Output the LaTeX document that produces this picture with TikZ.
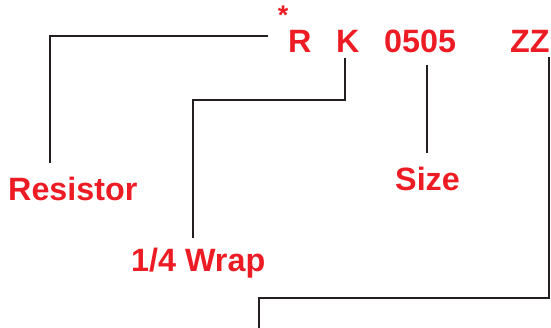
\documentclass[tikz,border=0pt]{standalone}
\usepackage{fontspec}
\setmainfont{Liberation Sans}
\definecolor{codered}{HTML}{ED1C24}
\definecolor{leadgray}{HTML}{231F20}

\begin{document}
\begin{tikzpicture}[
    x=1pt, y=-1pt,
    code/.style={text=codered, font=\bfseries\fontsize{32.3}{32.3}\selectfont, inner sep=0pt, anchor=base west},
    label/.style={code},
    lead/.style={draw=leadgray, line width=2.6pt, line cap=butt, line join=miter}
]
\useasboundingbox (0,0) rectangle (551,327);

% Part number
\node[text=codered, font=\bfseries\fontsize{27}{27}\selectfont, inner sep=0pt] (star) at (283,15) {*};
\node[code] (R) at (288,52) {R};
\node[code] (K) at (336,52) {K};
\node[code] (size code) at (384,52) {0505};
\node[code] (ZZ) at (510,52) {ZZ};

% Labels
\node[label] (resistor) at (8,200) {Resistor};
\node[label] (wrap) at (131,271) {1/4 Wrap};
\node[label] (size) at (395,190) {Size};

% Lead line end points
\coordinate (starEnd) at (268,36);
\coordinate (resTip) at (50,163);
\coordinate (kTop) at (345,58);
\coordinate (wrapTip) at (193,238);
\coordinate (sizeTop) at (427,65);
\coordinate (sizeTip) at (427,153);
\coordinate (zzTop) at (549,57);
\coordinate (zzBend) at (549,298);
\coordinate (zzFoot) at (259,328);

% Lead lines
\draw[lead] (starEnd) -| (resTip);
\draw[lead] (kTop) -- ++(0,42) -| (wrapTip);
\draw[lead] (sizeTop) -- (sizeTip);
\draw[lead] (zzTop) -- (zzBend) -| (zzFoot);
\end{tikzpicture}
\end{document}
